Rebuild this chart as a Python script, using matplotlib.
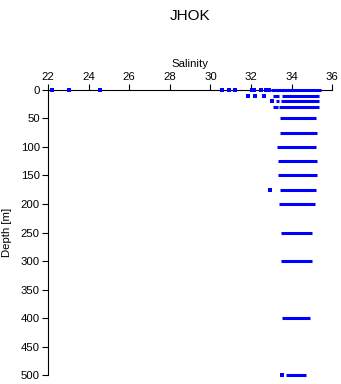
import numpy as np
import matplotlib
matplotlib.use("Agg")
import matplotlib.pyplot as plt

plt.rcParams['font.family'] = ['Liberation Sans', 'DejaVu Sans']

# Depth levels and the salinity range covered at each level (dense bands)
depths = [0, 10, 20, 30, 50, 75, 100, 125, 150, 175, 200, 250, 300, 400, 500]
band_lo = [32.99, 33.53, 33.50, 33.40, 33.42, 33.45, 33.30, 33.35, 33.35, 33.45, 33.40, 33.48, 33.48, 33.53, 33.72]
band_hi = [35.45, 35.37, 35.37, 35.37, 35.20, 35.27, 35.22, 35.27, 35.27, 35.22, 35.16, 35.00, 35.00, 34.90, 34.70]

# Shorter extra bands near the surface
extra_depth = [10, 20, 30]
extra_lo = [33.10, 33.23, 33.07]
extra_hi = [33.40, 33.40, 33.33]

# Isolated samples
pt_depth = [0, 0, 0, 0, 0, 0, 0, 0, 0, 0, 0, 10, 10, 10, 20, 175, 500]
pt_sal = [22.17, 23.05, 24.56, 30.56, 30.90, 31.20, 32.05, 32.17, 32.51, 32.73, 32.91,
          31.87, 32.18, 32.63, 33.05, 32.96, 33.55]

xticks = [22, 24, 26, 28, 30, 32, 34, 36]
yticks = [0, 50, 100, 150, 200, 250, 300, 350, 400, 450, 500]

fig = plt.figure(figsize=(3.41, 3.84), dpi=100)
ax = fig.add_axes([0.141, 0.023, 0.833, 0.743])

# Bands
ax.hlines(depths, band_lo, band_hi, colors='blue', linewidth=2.2, zorder=3, clip_on=False)
ax.hlines(extra_depth, extra_lo, extra_hi, colors='blue', linewidth=2.2, zorder=3, clip_on=False)
# Points
ax.plot(pt_sal, pt_depth, 's', color='blue', markersize=2.4, markeredgewidth=0,
        zorder=4, clip_on=False)

ax.set_xlim(22, 36)
ax.set_ylim(500, 0)
ax.set_xticks(xticks)
ax.set_yticks(yticks)

ax.xaxis.set_ticks_position('top')
ax.xaxis.set_label_position('top')
ax.spines['right'].set_visible(False)
ax.spines['bottom'].set_visible(False)
for s in ['top', 'left']:
    ax.spines[s].set_linewidth(0.8)

ax.tick_params(axis='both', direction='out', length=4, width=0.8, labelsize=8.2, pad=2)
ax.set_xlabel("Salinity", fontsize=8.2, labelpad=3)
ax.set_ylabel("Depth [m]", fontsize=8.2, labelpad=6)

fig.text(0.557, 0.977, "JHOK", ha='center', va='top', fontsize=11)

fig.savefig("out.png", dpi=100)
